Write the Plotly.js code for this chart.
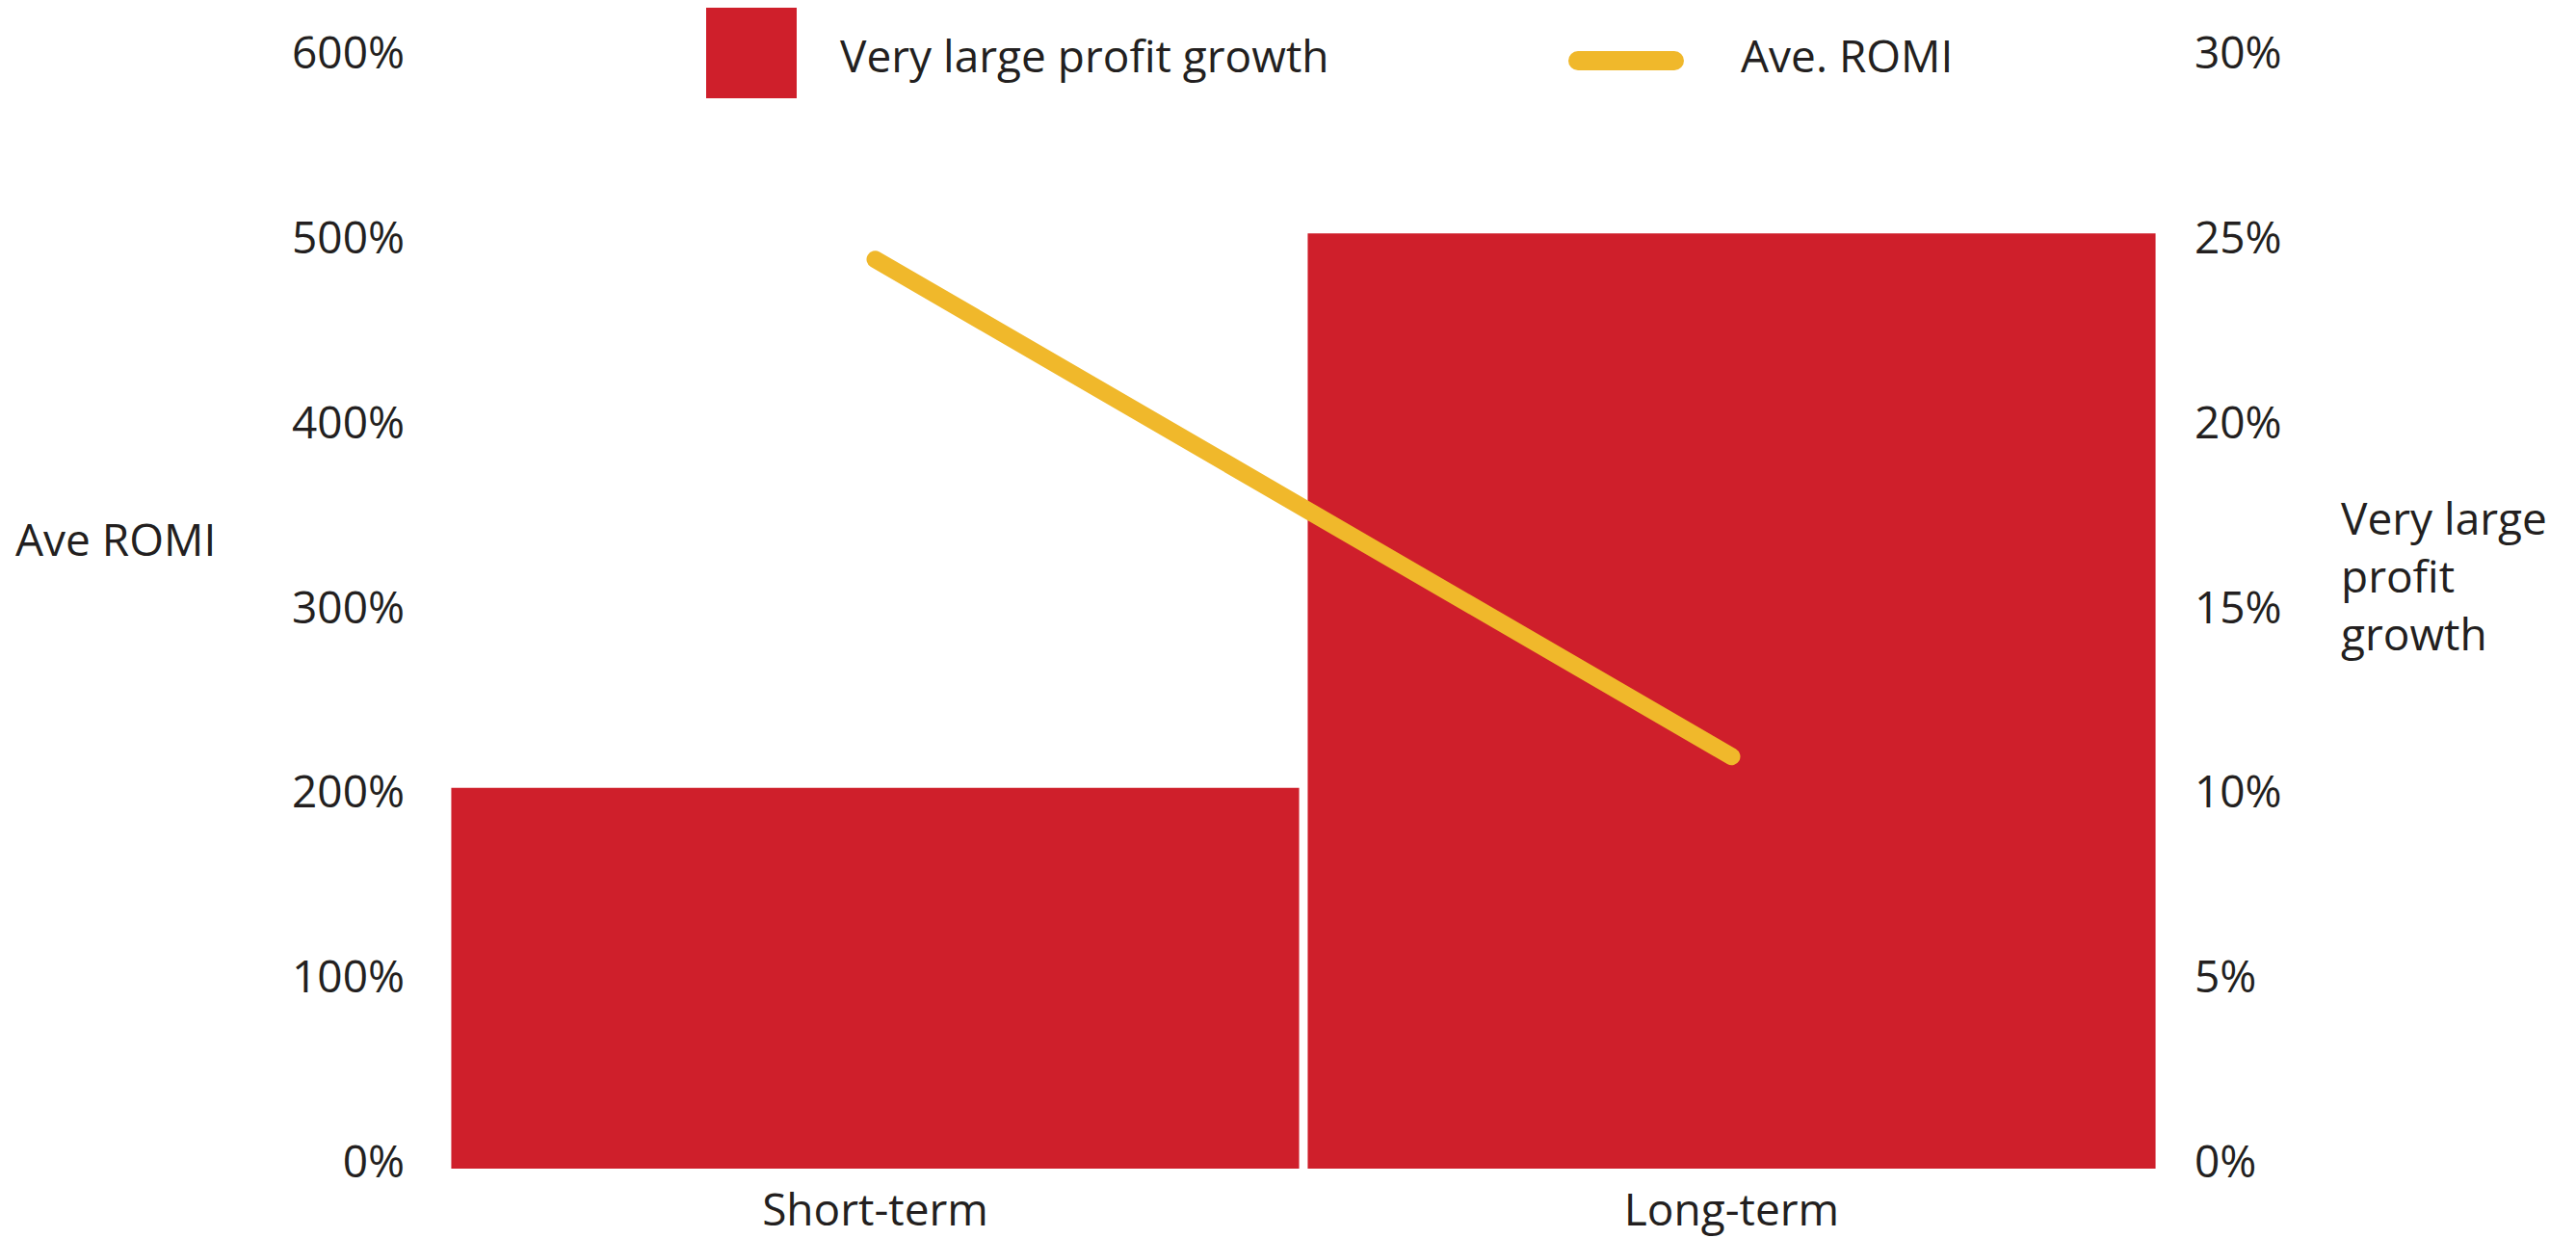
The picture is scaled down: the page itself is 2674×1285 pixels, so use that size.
<!DOCTYPE html>
<html>
<head>
<meta charset="utf-8">
<script src="https://cdn.plot.ly/plotly-3.0.1.min.js"></script>
<style>
  html, body { margin: 0; padding: 0; background: #fff; }
  #chart { width: 2674px; height: 1285px; }
  .scatterlayer .js-line { stroke-linecap: round !important; stroke-linejoin: round !important; }
  .shapelayer path { stroke-linecap: round !important; }
</style>
</head>
<body>
<div id="chart"></div>
<script>
// ---- data ----
const categories = ["Short-term", "Long-term"];
const profitGrowth = [10.3, 25.3];     // % "Very large profit growth" (right axis)
const aveRomi = [492, 223];            // % Ave. ROMI (left axis)
const leftTicks = [0, 100, 200, 300, 400, 500, 600];
const leftTickText = ["0%", "100%", "200%", "300%", "400%", "500%", "600%"];
const rightTicks = [0, 5, 10, 15, 20, 25, 30];
const rightTickText = ["0%", "5%", "10%", "15%", "20%", "25%", "30%"];
const barName = "Very large profit growth";
const lineName = "Ave. ROMI";
const leftTitle = "Ave ROMI";
const rightTitle = "Very large<br>profit<br>growth";

// ---- style ----
const RED = "#CF1F2B";
const YELLOW = "#F0B82B";
const TEXT = "#231F20";
const FONT = "Open Sans, Noto Sans, sans-serif";
const FS = 46;

const W = 2674, H = 1285;
const M = { l: 464, r: 432, t: 62, b: 72 };
const plotW = W - M.l - M.r, plotH = H - M.t - M.b;
const px = x => (x - M.l) / plotW;
const py = y => (H - M.b - y) / plotH;

const traces = [
  {
    type: "bar", x: categories, y: profitGrowth, name: barName,
    marker: { color: RED, line: { width: 0 } }, yaxis: "y", hoverinfo: "skip"
  },
  {
    type: "scatter", mode: "lines", x: categories, y: aveRomi, name: lineName,
    line: { color: YELLOW, width: 18 }, yaxis: "y2", hoverinfo: "skip"
  }
];

const layout = {
  width: W, height: H,
  margin: M,
  paper_bgcolor: "#fff", plot_bgcolor: "#fff",
  font: { family: FONT, size: FS, color: TEXT },
  showlegend: false,
  bargap: 0.01,
  xaxis: {
    type: "category", showgrid: false, zeroline: false, showline: false,
    ticks: "", tickfont: { size: FS, color: TEXT }, ticklabelstandoff: 12
  },
  yaxis: {
    side: "right", range: [0, 30], tickmode: "array",
    tickvals: rightTicks, ticktext: rightTickText,
    showgrid: false, zeroline: false, showline: false, ticks: "",
    tickfont: { size: FS, color: TEXT }, ticklabelstandoff: 35, ticklabelshift: -7
  },
  yaxis2: {
    side: "left", overlaying: "y", range: [0, 600], tickmode: "array",
    tickvals: leftTicks, ticktext: leftTickText,
    showgrid: false, zeroline: false, showline: false, ticks: "",
    tickfont: { size: FS, color: TEXT }, ticklabelstandoff: 43, ticklabelshift: -7
  },
  shapes: [
    { type: "rect", xref: "paper", yref: "paper",
      x0: px(733), x1: px(827), y0: py(102), y1: py(8),
      fillcolor: RED, line: { width: 0 } },
    { type: "line", xref: "paper", yref: "paper",
      x0: px(1638), x1: px(1738), y0: py(63), y1: py(63),
      line: { color: YELLOW, width: 20 } }
  ],
  annotations: [
    { text: barName, xref: "paper", yref: "paper", x: px(870), y: py(57),
      xanchor: "left", yanchor: "middle", showarrow: false,
      font: { size: FS, color: TEXT, family: FONT } },
    { text: lineName, xref: "paper", yref: "paper", x: px(1805), y: py(57),
      xanchor: "left", yanchor: "middle", showarrow: false,
      font: { size: FS, color: TEXT, family: FONT } },
    { text: leftTitle, xref: "paper", yref: "paper", x: px(14), y: py(559),
      xanchor: "left", yanchor: "middle", showarrow: false,
      font: { size: FS, color: TEXT, family: FONT } },
    { text: rightTitle, xref: "paper", yref: "paper", x: px(2428), y: py(597),
      xanchor: "left", yanchor: "middle", align: "left", showarrow: false,
      font: { size: FS, color: TEXT, family: FONT } }
  ]
};

Plotly.newPlot("chart", traces, layout, { staticPlot: true, displayModeBar: false });
</script>
</body>
</html>
